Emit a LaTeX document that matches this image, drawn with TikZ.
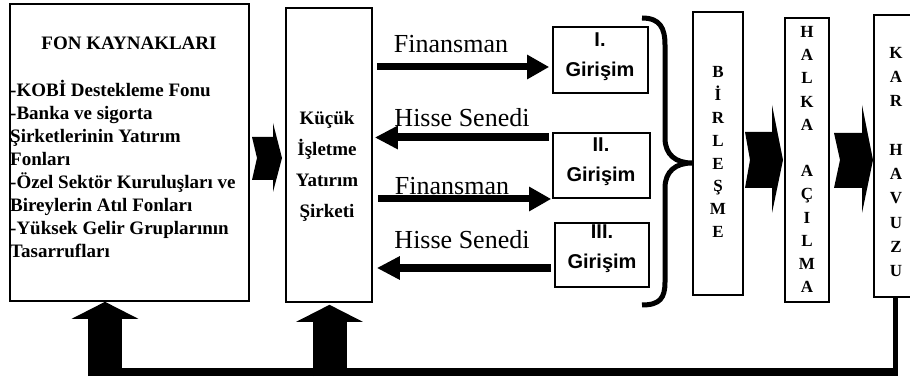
\documentclass[tikz,border=0pt]{standalone}
\usepackage{fontspec}
\setmainfont{Liberation Serif}
\newfontfamily\sansf{Liberation Sans}
\usetikzlibrary{arrows.meta}
\begin{document}
\begin{tikzpicture}[x=1pt,y=-1pt,
  box/.style={draw, line width=1.6pt, inner sep=0pt},
  boxtext/.style={inner sep=0pt, align=center, font=\bfseries},
  flowlabel/.style={inner sep=0pt, font=\fontsize{26}{30}\selectfont},
  finarrow/.style={line width=7pt, -{Triangle[length=22pt,width=23pt]}},
  hissearrow/.style={line width=8pt, -{Triangle[length=23pt,width=22pt]}},
  uparrow/.style={line width=34pt, -{Triangle[length=17pt,width=66pt]}},
  chevron/.style={fill=black, draw=none}
]
\useasboundingbox (0,0) rectangle (910,379);

% boxes
\node[box, minimum width=239pt, minimum height=297pt] (fon) at (129.5,152.5) {};
\node[box, minimum width=86pt, minimum height=294pt] (kucuk) at (329,155) {};
\node[box, minimum width=95pt, minimum height=66pt] (g1) at (600.5,60) {};
\node[box, minimum width=97pt, minimum height=65pt] (g2) at (601.5,165.5) {};
\node[box, minimum width=94pt, minimum height=64pt] (g3) at (602,255) {};
\node[box, minimum width=50pt, minimum height=283pt] (birl) at (718,153.5) {};
\node[box, minimum width=44pt, minimum height=284pt] (halka) at (807,160) {};
\node[box, minimum width=44pt, minimum height=282pt] (kar) at (896,156) {};

% texts
\node[boxtext, font=\fontsize{19}{23}\selectfont\bfseries] (fonhead) at (129,43) {FON KAYNAKLARI};
\node[inner sep=0pt, align=left, anchor=north west, font=\fontsize{19}{23}\selectfont\bfseries] (fonlist) at (10,80)
 {-KOBİ Destekleme Fonu\\-Banka ve sigorta\\Şirketlerinin Yatırım\\Fonları\\-Özel Sektör Kuruluşları ve\\Bireylerin Atıl Fonları\\-Yüksek Gelir Gruplarının\\Tasarrufları};
\node[boxtext, font=\fontsize{19}{31}\selectfont\bfseries] (kucuktxt) at (327,166.5) {Küçük\\İşletme\\Yatırım\\Şirketi};
\node[boxtext, font=\fontsize{20}{30}\selectfont\sansf\bfseries] (g1txt) at (600,57) {I.\\Girişim};
\node[boxtext, font=\fontsize{20}{30}\selectfont\sansf\bfseries] (g2txt) at (601,161.5) {II.\\Girişim};
\node[boxtext, font=\fontsize{20}{30}\selectfont\sansf\bfseries] (g3txt) at (602,249) {III.\\Girişim};
\node[boxtext, font=\fontsize{17}{22.9}\selectfont\bfseries] (birltxt) at (718,152) {B\\İ\\R\\L\\E\\Ş\\M\\E};
\node[boxtext, font=\fontsize{17}{23.2}\selectfont\bfseries] (halkatxt) at (807,159.5) {H\\A\\L\\K\\A\\\mbox{}\\A\\Ç\\I\\L\\M\\A};
\node[boxtext, font=\fontsize{17}{24.3}\selectfont\bfseries] (kartxt) at (896,162) {K\\A\\R\\\mbox{}\\H\\A\\V\\U\\Z\\U};

% flow labels
\node[flowlabel] (l1) at (451,44) {Finansman};
\node[flowlabel] (l2) at (462,117.5) {Hisse Senedi};
\node[flowlabel] (l3) at (452,186) {Finansman};
\node[flowlabel] (l4) at (462,240) {Hisse Senedi};

% lanes
\coordinate (r1) at (0,67);
\coordinate (r2) at (0,137.5);
\coordinate (r3) at (0,199);
\coordinate (r4) at (0,268);
\draw[finarrow, shorten <=4pt, shorten >=3pt] (kucuk.east |- r1) -- (g1.west |- r1);
\draw[hissearrow, shorten <=3pt, shorten >=2pt] (g2.west |- r2) -- (kucuk.east |- r2);
\draw[finarrow, shorten <=5pt, shorten >=1pt] (kucuk.east |- r3) -- (g2.west |- r3);
\draw[hissearrow, shorten <=3pt, shorten >=4pt] (g3.west |- r4) -- (kucuk.east |- r4);

% brace
\draw[line width=5pt] (642,18) .. controls (660,18) and (665,28) .. (665,45) -- (665,138)
  .. controls (665,155) and (676,163) .. (692,163)
  .. controls (676,163) and (665,171) .. (665,188) -- (665,282)
  .. controls (665,298) and (660,305) .. (642,305);

% chevron arrows
\fill[chevron] (252,137) -- (273,137) -- (273,123) -- (282,158) -- (273,192) -- (273,180) -- (252,180) -- (257,158) -- cycle;
\fill[chevron] (745,132) -- (772,132) -- (772,105) -- (783,160) -- (772,213) -- (772,188) -- (745,188) -- (750,160) -- cycle;
\fill[chevron] (834,133) -- (862,133) -- (862,105) -- (873,160) -- (862,213) -- (862,188) -- (834,188) -- (840,160) -- cycle;

% feedback
\coordinate (fb) at (895,372);
\coordinate (fbl) at (88,372);
\coordinate (u1) at (105,376);
\coordinate (u2) at (329.5,376);
\draw[line width=5pt] (kar.south -| fb) -- ([yshift=-4pt]fb);
\draw[line width=8pt] ([xshift=2.5pt]fb) -- (fbl);
\draw[uparrow] (u1) -- (u1 |- fon.south);
\draw[uparrow] (u2) -- ([yshift=-2pt]u2 |- kucuk.south);
\end{tikzpicture}
\end{document}
